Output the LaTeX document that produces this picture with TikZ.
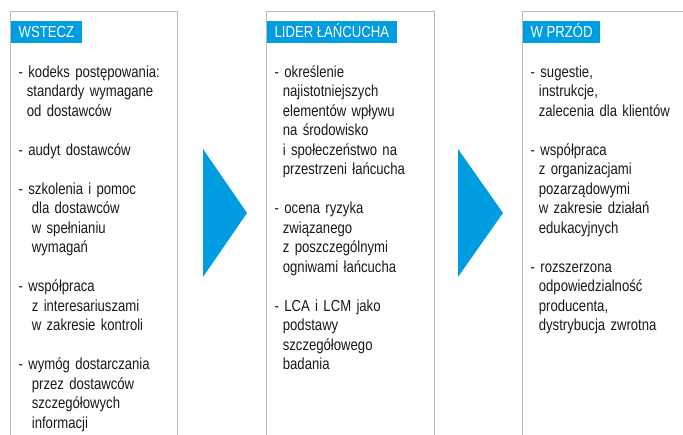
\documentclass[tikz,border=0pt]{standalone}
\usepackage{fontspec}
\setmainfont[FakeStretch=0.82]{Liberation Sans}
\usetikzlibrary{positioning}
\definecolor{leadblue}{RGB}{0,158,224}
\definecolor{framegray}{RGB}{185,185,185}
\definecolor{listtext}{RGB}{25,25,25}
\newcommand{\tightspace}{\spaceskip=3.6pt\relax\xspaceskip=3.6pt\relax}
\newcommand{\headfont}{\fontsize{16}{18}\selectfont\tightspace}
\newcommand{\listfont}{\fontsize{16}{19.5}\selectfont\tightspace}
\newcommand{\cont}{\hphantom{-}\hspace*{3.8pt}}
\newcommand{\gap}{\\[19.5pt]}

\begin{document}
\begin{tikzpicture}[x=1pt, y=-1pt,
header/.style={fill=leadblue, text=white, anchor=north west, inner xsep=7.5pt, inner ysep=0pt,
  minimum height=22pt, text height=11.4pt, text depth=0pt, font=\headfont},
itemlist/.style={anchor=north west, inner sep=0pt, align=left, text width=160pt, text=listtext,
  font=\listfont},
colframe/.style={draw=framegray, line width=1pt},
pointer/.style={fill=leadblue}]

\useasboundingbox (0,0) rectangle (683,435);

%%%%%% RAMKI %%%%%%%%%%

\draw[colframe] (10.5,440) -- (10.5,12) -- (177.5,12) -- (177.5,440);
\draw[colframe] (266.5,440) -- (266.5,12) -- (434.5,12) -- (434.5,440);
\draw[colframe] (522.5,440) -- (522.5,12) -- (690,12);

%%%%%% STRZALKI %%%%%%%%%%

\fill[pointer] (203,149) -- (247,213) -- (203,277) -- cycle;
\fill[pointer] (458,149) -- (503,213) -- (458,277) -- cycle;

%%%%%% NAGLOWKI %%%%%%%%%%

\node[header] (wstecz) at (11,21) {WSTECZ};
\node[header] (lider) at (267,21) {LIDER ŁAŃCUCHA};
\node[header] (wprzod) at (523,21) {W PRZÓD};

%%%%%% LISTY %%%%%%%%%%

\node[itemlist] (wsteczlist) at (18.5,63.5) {\strut- kodeks postępowania:\\
\cont standardy wymagane\\
\cont od dostawców\gap
- audyt dostawców\gap
- szkolenia i pomoc\\
\cont\hspace{5pt}dla dostawców\\
\cont\hspace{5pt}w spełnianiu\\
\cont\hspace{5pt}wymagań\gap
- współpraca\\
\cont\hspace{5pt}z interesariuszami\\
\cont\hspace{5pt}w zakresie kontroli\gap
- wymóg dostarczania\\
\cont\hspace{5pt}przez dostawców\\
\cont\hspace{5pt}szczegółowych\\
\cont\hspace{5pt}informacji};

\node[itemlist] (liderlist) at (274.5,63.5) {\strut- określenie\\
\cont najistotniejszych\\
\cont elementów wpływu\\
\cont na środowisko\\
\cont i społeczeństwo na\\
\cont przestrzeni łańcucha\gap
- ocena ryzyka\\
\cont związanego\\
\cont z poszczególnymi\\
\cont ogniwami łańcucha\gap
- LCA i LCM jako\\
\cont podstawy\\
\cont szczegółowego\\
\cont badania};

\node[itemlist] (wprzodlist) at (530.5,63.5) {\strut- sugestie,\\
\cont instrukcje,\\
\cont zalecenia dla klientów\gap
- współpraca\\
\cont z organizacjami\\
\cont pozarządowymi\\
\cont w zakresie działań\\
\cont edukacyjnych\gap
- rozszerzona\\
\cont odpowiedzialność\\
\cont producenta,\\
\cont dystrybucja zwrotna};

\end{tikzpicture}
\end{document}
